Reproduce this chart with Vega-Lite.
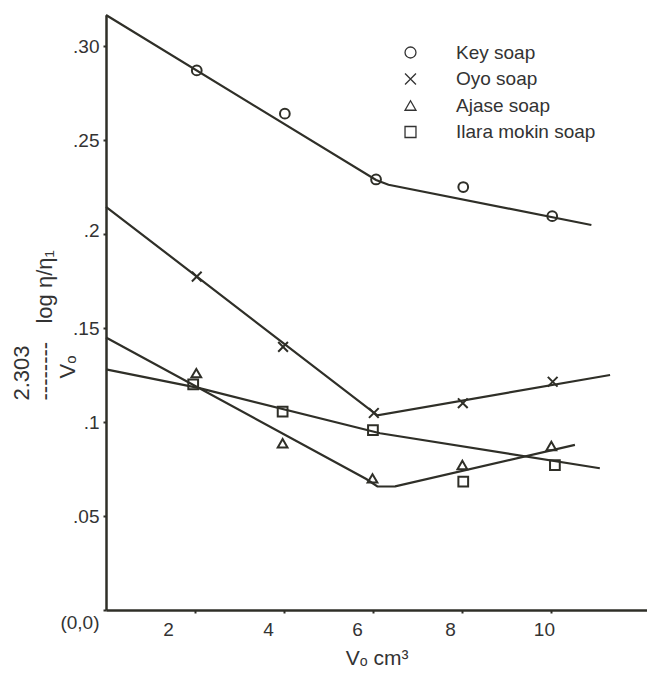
{
  "$schema": "https://vega.github.io/schema/vega-lite/v6.json",
  "width": 541,
  "height": 595,
  "autosize": {"type": "none"},
  "padding": {"left": 106, "top": 15, "right": 0, "bottom": 64},
  "background": "#ffffff",
  "config": {"view": {"stroke": null}, "font": "Liberation Sans"},
  "datasets": {
    "fits": [
      {"soap": "Key soap", "V": 0, "val": 0.3165},
      {"soap": "Key soap", "V": 6.07, "val": 0.2287},
      {"soap": "Key soap", "V": 6.35, "val": 0.2262},
      {"soap": "Key soap", "V": 10.91, "val": 0.2048},
      {"soap": "Oyo soap", "V": 0, "val": 0.2145},
      {"soap": "Oyo soap", "V": 6.1, "val": 0.1035},
      {"soap": "Oyo soap", "V": 11.33, "val": 0.125},
      {"soap": "Ajase soap", "V": 0, "val": 0.145},
      {"soap": "Ajase soap", "V": 5.85, "val": 0.0697},
      {"soap": "Ajase soap", "V": 6.1, "val": 0.0657},
      {"soap": "Ajase soap", "V": 6.5, "val": 0.0658},
      {"soap": "Ajase soap", "V": 10.54, "val": 0.0878},
      {"soap": "Ilara mokin soap", "V": 0, "val": 0.128},
      {"soap": "Ilara mokin soap", "V": 2.1, "val": 0.118},
      {"soap": "Ilara mokin soap", "V": 6.16, "val": 0.094},
      {"soap": "Ilara mokin soap", "V": 11.1, "val": 0.0754}
    ],
    "obs": [
      {"soap": "Key soap", "V": 2.04, "val": 0.287},
      {"soap": "Key soap", "V": 4.02, "val": 0.264},
      {"soap": "Key soap", "V": 6.07, "val": 0.229},
      {"soap": "Key soap", "V": 8.03, "val": 0.225},
      {"soap": "Key soap", "V": 10.03, "val": 0.2095},
      {"soap": "Oyo soap", "V": 2.04, "val": 0.1773},
      {"soap": "Oyo soap", "V": 3.98, "val": 0.14},
      {"soap": "Oyo soap", "V": 6.02, "val": 0.1048},
      {"soap": "Oyo soap", "V": 8.02, "val": 0.11},
      {"soap": "Oyo soap", "V": 10.04, "val": 0.1214},
      {"soap": "Ajase soap", "V": 2.03, "val": 0.126},
      {"soap": "Ajase soap", "V": 3.97, "val": 0.0887},
      {"soap": "Ajase soap", "V": 5.99, "val": 0.07},
      {"soap": "Ajase soap", "V": 8.01, "val": 0.0771},
      {"soap": "Ajase soap", "V": 10.01, "val": 0.0872},
      {"soap": "Ilara mokin soap", "V": 1.96, "val": 0.12},
      {"soap": "Ilara mokin soap", "V": 3.97, "val": 0.1055},
      {"soap": "Ilara mokin soap", "V": 6.0, "val": 0.0957},
      {"soap": "Ilara mokin soap", "V": 8.03, "val": 0.0683},
      {"soap": "Ilara mokin soap", "V": 10.09, "val": 0.0771}
    ]
  },
  "layer": [
    {
      "data": {"name": "fits"},
      "mark": {"type": "line", "color": "#2f2f28", "strokeWidth": 2.2},
      "encoding": {
        "x": {
          "field": "V", "type": "quantitative",
          "scale": {"domain": [0, 12.16], "nice": false, "zero": false},
          "axis": {
            "values": [2, 4, 6, 8, 10],
            "title": "Vₒ cm³",
            "grid": false,
            "domainColor": "#2f2f28", "domainWidth": 2.5,
            "tickColor": "#2f2f28", "tickSize": 3, "tickWidth": 2,
            "labelFontSize": 19, "labelColor": "#333333", "labelPadding": 7,
            "labelFont": "Liberation Sans",
            "labelOffset": {"condition": [
              {"test": "datum.value == 2", "value": -27},
              {"test": "datum.value == 4", "value": -16},
              {"test": "datum.value == 6", "value": -16},
              {"test": "datum.value == 8", "value": -12}
            ], "value": -7},
            "titleFontSize": 21, "titleFontWeight": "normal", "titleColor": "#333333",
            "titleFont": "Liberation Sans", "titlePadding": 8
          }
        },
        "y": {
          "field": "val", "type": "quantitative",
          "scale": {"domain": [0, 0.3165], "nice": false, "zero": false},
          "axis": {
            "values": [0, 0.05, 0.1, 0.15, 0.2, 0.25, 0.3],
            "labelExpr": "datum.value == 0 ? '(0,0)' : (datum.value == 0.3 ? '.30' : replace(format(datum.value, '.2~f'), '0.', '.'))",
            "grid": false,
            "domainColor": "#2f2f28", "domainWidth": 2.5,
            "tickColor": "#2f2f28", "tickSize": 3, "tickWidth": 2,
            "labelFontSize": 19, "labelColor": "#333333", "labelPadding": 4,
            "labelFont": "Liberation Sans",
            "labelOffset": {"condition": [
              {"test": "datum.value == 0", "value": 12},
              {"test": "datum.value == 0.2", "value": -4}
            ], "value": 0},
            "title": ["2.303", "--------\u00a0\u00a0\u00a0log η/η₁", "\u200b\u2003Vₒ"],
            "titleAngle": -90,
            "titleAlign": "left",
            "titleBaseline": "middle",
            "titleX": -85,
            "titleY": 385,
            "titleLineHeight": 23,
            "titleFontSize": 22, "titleFontWeight": "normal", "titleColor": "#333333",
            "titleFont": "Liberation Sans"
          }
        },
        "detail": {"field": "soap", "type": "nominal"}
      }
    },
    {
      "data": {"name": "obs"},
      "mark": {"type": "point", "filled": false, "color": "#2f2f28", "strokeWidth": 2, "opacity": 1, "size": 95},
      "encoding": {
        "x": {"field": "V", "type": "quantitative"},
        "y": {"field": "val", "type": "quantitative"},
        "shape": {
          "field": "soap", "type": "nominal",
          "scale": {
            "domain": ["Key soap", "Oyo soap", "Ajase soap", "Ilara mokin soap"],
            "range": ["circle", "M -1 -1 L 1 1 M 1 -1 L -1 1", "triangle-up", "square"]
          },
          "legend": {
            "orient": "none", "legendX": 295, "legendY": 28,
            "title": null, "padding": 0,
            "labelFontSize": 19, "labelColor": "#333333", "labelFont": "Liberation Sans",
            "labelOffset": 36, "rowPadding": 6.5,
            "symbolSize": 120, "symbolStrokeWidth": 1.3,
            "symbolStrokeColor": "#333333", "symbolFillColor": "transparent"
          }
        }
      }
    }
  ]
}
